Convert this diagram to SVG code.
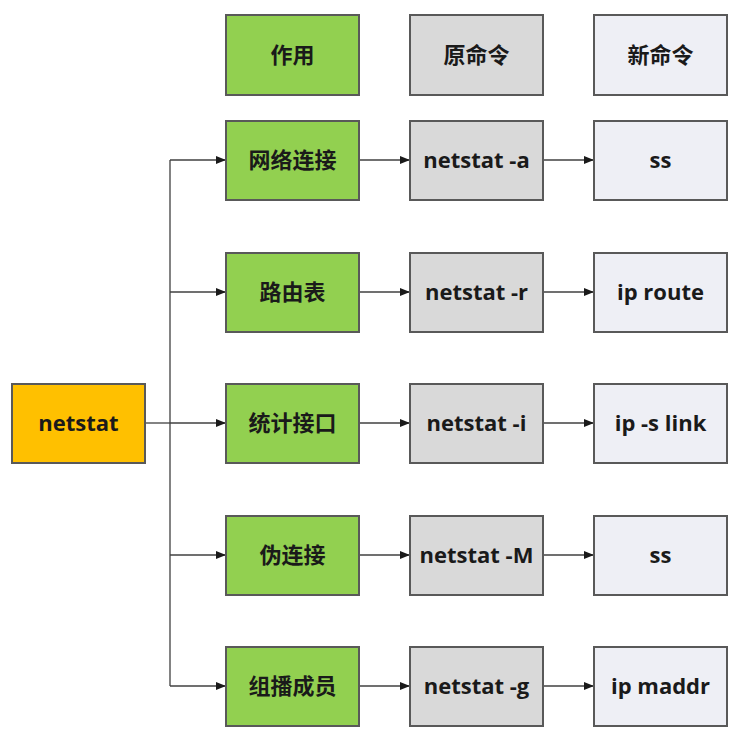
<svg xmlns="http://www.w3.org/2000/svg" width="742" height="743" viewBox="0 0 742 743">
<style>
.box{stroke:#595959;stroke-width:2}
.g{fill:#92D050}
.d{fill:#D9D9D9}
.l{fill:#EEEFF5}
.o{fill:#FFC000}
text{font-family:"Open Sans","Noto Sans CJK SC",sans-serif;font-weight:bold;font-size:22px;fill:#1a1a1a;text-anchor:middle;dominant-baseline:central}
text.cjk{font-size:22px}
.c{fill:none;stroke:#404040;stroke-width:1.3}
</style>
<defs>
<marker id="ah" markerWidth="10" markerHeight="8" refX="10" refY="4" orient="auto" markerUnits="userSpaceOnUse">
<path d="M0,0 L10,4 L0,8 Z" fill="#1a1a1a"/>
</marker>
</defs>
<rect width="742" height="743" fill="#fff"/>
<g id="connectors">
<path class="c" d="M145,423 H170"/>
<path class="c" d="M170,160 V686"/>
<path class="c" d="M170,160 H226" marker-end="url(#ah)"/>
<path class="c" d="M170,292 H226" marker-end="url(#ah)"/>
<path class="c" d="M170,423 H226" marker-end="url(#ah)"/>
<path class="c" d="M170,555 H226" marker-end="url(#ah)"/>
<path class="c" d="M170,686 H226" marker-end="url(#ah)"/>
<path class="c" d="M359,160 H410" marker-end="url(#ah)"/>
<path class="c" d="M359,292 H410" marker-end="url(#ah)"/>
<path class="c" d="M359,423 H410" marker-end="url(#ah)"/>
<path class="c" d="M359,555 H410" marker-end="url(#ah)"/>
<path class="c" d="M359,686 H410" marker-end="url(#ah)"/>
<path class="c" d="M543,160 H594" marker-end="url(#ah)"/>
<path class="c" d="M543,292 H594" marker-end="url(#ah)"/>
<path class="c" d="M543,423 H594" marker-end="url(#ah)"/>
<path class="c" d="M543,555 H594" marker-end="url(#ah)"/>
<path class="c" d="M543,686 H594" marker-end="url(#ah)"/>
</g>
<g id="h-role"><rect class="box g" x="226" y="15" width="133" height="80"/><text class="cjk" x="292.5" y="54">作用</text></g>
<g id="h-old"><rect class="box d" x="410" y="15" width="133" height="80"/><text class="cjk" x="476.5" y="54">原命令</text></g>
<g id="h-new"><rect class="box l" x="594" y="15" width="133" height="80"/><text class="cjk" x="660.5" y="54">新命令</text></g>
<g id="netstat"><rect class="box o" x="12" y="384" width="133" height="79"/><text x="78.5" y="422">netstat</text></g>
<g id="r1-role"><rect class="box g" x="226" y="121" width="133" height="79"/><text class="cjk" x="292.5" y="159">网络连接</text></g>
<g id="r1-old"><rect class="box d" x="410" y="121" width="133" height="79"/><text x="476.5" y="159">netstat -a</text></g>
<g id="r1-new"><rect class="box l" x="594" y="121" width="133" height="79"/><text x="660.5" y="159">ss</text></g>
<g id="r2-role"><rect class="box g" x="226" y="253" width="133" height="79"/><text class="cjk" x="292.5" y="291">路由表</text></g>
<g id="r2-old"><rect class="box d" x="410" y="253" width="133" height="79"/><text x="476.5" y="291">netstat -r</text></g>
<g id="r2-new"><rect class="box l" x="594" y="253" width="133" height="79"/><text x="660.5" y="291">ip route</text></g>
<g id="r3-role"><rect class="box g" x="226" y="384" width="133" height="79"/><text class="cjk" x="292.5" y="422">统计接口</text></g>
<g id="r3-old"><rect class="box d" x="410" y="384" width="133" height="79"/><text x="476.5" y="422">netstat -i</text></g>
<g id="r3-new"><rect class="box l" x="594" y="384" width="133" height="79"/><text x="660.5" y="422">ip -s link</text></g>
<g id="r4-role"><rect class="box g" x="226" y="516" width="133" height="79"/><text class="cjk" x="292.5" y="554">伪连接</text></g>
<g id="r4-old"><rect class="box d" x="410" y="516" width="133" height="79"/><text x="476.5" y="554">netstat -M</text></g>
<g id="r4-new"><rect class="box l" x="594" y="516" width="133" height="79"/><text x="660.5" y="554">ss</text></g>
<g id="r5-role"><rect class="box g" x="226" y="647" width="133" height="79"/><text class="cjk" x="292.5" y="685">组播成员</text></g>
<g id="r5-old"><rect class="box d" x="410" y="647" width="133" height="79"/><text x="476.5" y="685">netstat -g</text></g>
<g id="r5-new"><rect class="box l" x="594" y="647" width="133" height="79"/><text x="660.5" y="685">ip maddr</text></g>
</svg>
